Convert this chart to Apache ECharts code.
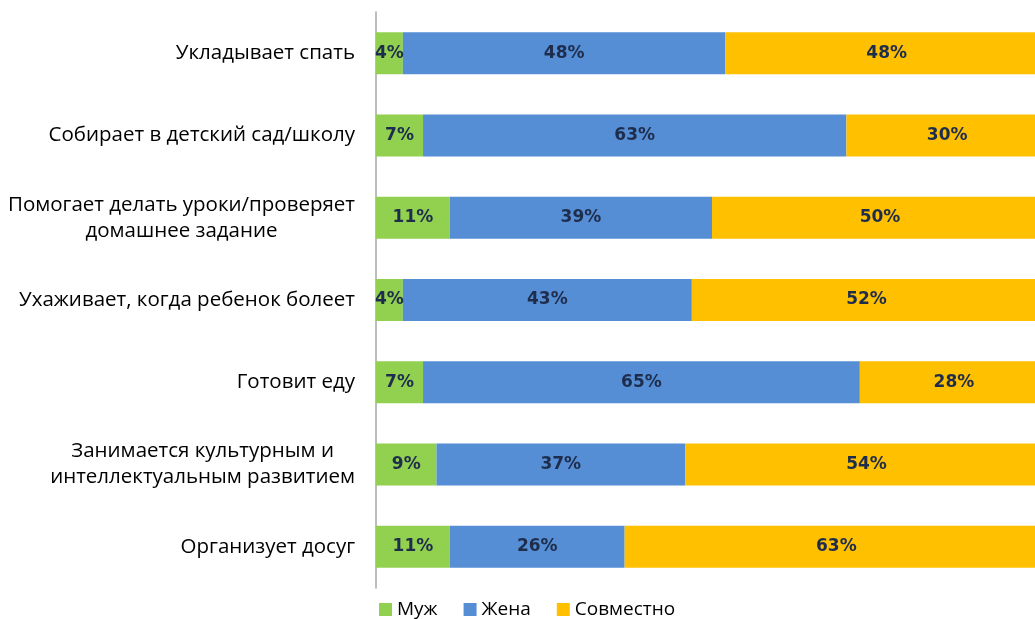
<!DOCTYPE html>
<html><head><meta charset="utf-8">
<script src="https://cdn.jsdelivr.net/npm/echarts@6/dist/echarts.min.js"></script>
<style>html,body{margin:0;padding:0;background:#fff}#c{width:1035px;height:619px}</style>
</head><body><div id="c"></div>
<script>
const categories = [
  "Укладывает спать",
  "Собирает в детский сад/школу",
  "Помогает делать уроки/проверяет\nдомашнее задание",
  "Ухаживает, когда ребенок болеет",
  "Готовит еду",
  "Занимается культурным и\nинтеллектуальным развитием",
  "Организует досуг"
];
const seriesNames = ["Муж", "Жена", "Совместно"];
const husband = [4, 7, 11, 4, 7, 9, 11];
const wife = [48, 63, 39, 43, 65, 37, 26];
const together = [48, 30, 50, 52, 28, 54, 63];
const colors = ["#92D050", "#558ED5", "#FFC000"];

const chart = echarts.init(document.getElementById('c'), null, {renderer: 'canvas'});
const mk = (name, data, color) => ({
  name, type: 'bar', stack: 'total', data,
  barCategoryGap: '49%',
  itemStyle: {color},
  label: {show: true, position: 'inside', formatter: '{c}%', color: '#1F2D4D',
    fontFamily: 'DejaVu Sans', fontWeight: 'bold', fontSize: 17}
});
chart.setOption({
  animation: false,
  grid: {left: 376, width: 672, top: 12, bottom: 31, containLabel: false, outerBoundsMode: 'none'},
  legend: {top: 595, left: 374, itemWidth: 13, itemHeight: 13, itemGap: 26,
    icon: 'rect', textStyle: {fontFamily: 'Open Sans', fontSize: 19, color: '#000'},
    data: seriesNames},
  xAxis: {type: 'value', min: 0, max: 100, show: false},
  yAxis: {type: 'category', inverse: true, data: categories,
    axisLine: {lineStyle: {color: '#A6A6A6', width: 1.5}},
    axisTick: {show: false},
    axisLabel: {margin: 21, fontFamily: 'Open Sans', fontSize: 20.5, color: '#000',
      lineHeight: 26,
      formatter: v => v.split('\n').map(s => '{a|' + s + '}').join('\n'),
      rich: {a: {align: 'center', fontFamily: 'Open Sans', fontSize: 20.5, color: '#000', lineHeight: 26}}}
  },
  series: [mk(seriesNames[0], husband, colors[0]), mk(seriesNames[1], wife, colors[1]), mk(seriesNames[2], together, colors[2])]
});
</script></body></html>
